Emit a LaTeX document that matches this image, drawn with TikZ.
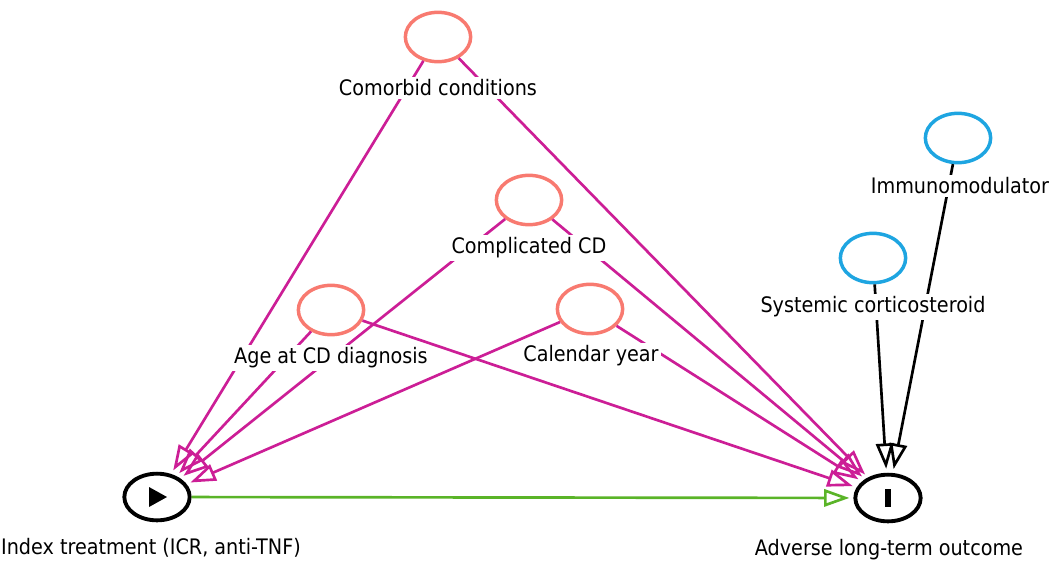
\documentclass[tikz,border=0pt]{standalone}
\usepackage{fontspec}
\setmainfont{DejaVu Sans Condensed}
\usepackage{tikz}
\usetikzlibrary{arrows.meta,shapes.geometric}
\definecolor{confpink}{RGB}{248,122,112}
\definecolor{ancblue}{RGB}{30,165,225}
\definecolor{biasmag}{RGB}{204,30,150}
\definecolor{causegreen}{RGB}{90,180,40}

\begin{document}
\begin{tikzpicture}[x=0.75pt,y=-0.75pt,
  confv/.style={ellipse, draw=confpink, fill=white, line width=2.6pt, minimum width=49pt, minimum height=37pt, inner sep=0pt},
  ancv/.style={ellipse, draw=ancblue, fill=white, line width=2.6pt, minimum width=49pt, minimum height=37pt, inner sep=0pt},
  mainv/.style={ellipse, draw=black, fill=white, line width=2.9pt, minimum width=49pt, minimum height=35pt, inner sep=0pt},
  vlabel/.style={fill=white, inner sep=2pt, font={\fontsize{16}{18}\selectfont}},
  biasedge/.style={draw=biasmag, line width=2pt, shorten >=3pt, -{Triangle[open,length=19pt,width=13pt]}},
  ancedge/.style={draw=black, line width=2pt, shorten >=3pt, -{Triangle[open,length=19pt,width=13pt]}},
  causeedge/.style={draw=causegreen, line width=2pt, shorten >=3pt, -{Triangle[open,length=19pt,width=13pt]}}
]
\useasboundingbox (0,0) rectangle (1050,562);
% vertices
\node[confv] (comorb) at (438,37) {};
\node[confv] (compl) at (529,200) {};
\node[confv] (age) at (331,310) {};
\node[confv] (year) at (590,309) {};
\node[ancv] (immuno) at (958,138) {};
\node[ancv] (cortico) at (873,258) {};
\node[mainv] (treat) at (157,497) {};
\node[mainv] (outc) at (888,498) {};
\fill ([shift={(-8,-10)}]treat.center) -- ++(18,10) -- ++(-18,10) -- cycle;
\fill ([shift={(-3,-9)}]outc.center) rectangle ++(6,18);
% edges
\draw[biasedge] (comorb) -- (treat);
\draw[biasedge] (comorb) -- (outc);
\draw[biasedge] (compl) -- (treat);
\draw[biasedge] (compl) -- (outc);
\draw[biasedge] (age) -- (treat);
\draw[biasedge] (age) -- (outc);
\draw[biasedge] (year) -- (treat);
\draw[biasedge] (year) -- (outc);
\draw[ancedge] (immuno) -- (outc);
\draw[ancedge] (cortico) -- (outc);
\draw[causeedge] (treat) -- (outc);
% labels
\node[vlabel] (comorbl) at (438,88) {Comorbid conditions};
\node[vlabel] (compll) at (529,248) {Complicated CD};
\node[vlabel] (agel) at (331,358) {Age at CD diagnosis};
\node[vlabel] (yearl) at (591,356) {Calendar year};
\node[vlabel] (immunol) at (960,186) {Immunomodulator};
\node[vlabel] (corticol) at (873,307) {Systemic corticosteroid};
\node[vlabel] (treatl) at (151,548) {Index treatment (ICR, anti-TNF)};
\node[vlabel] (outcl) at (889,550) {Adverse long-term outcome};
\end{tikzpicture}
\end{document}
